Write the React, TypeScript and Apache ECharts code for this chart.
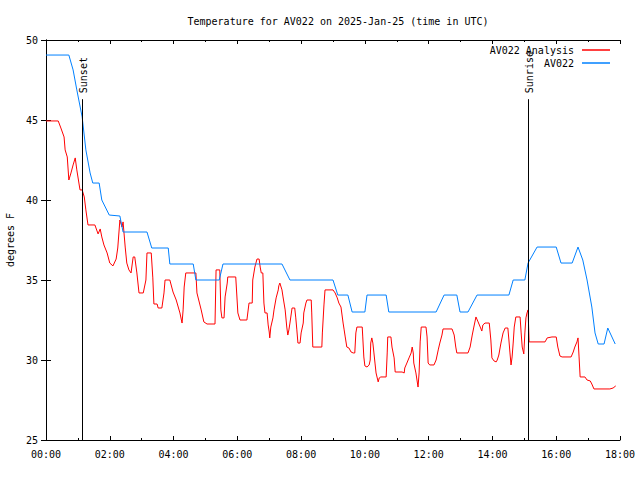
import React, { useEffect, useRef } from "react";
import * as echarts from "echarts";

const chartTitle = "Temperature for AV022 on 2025-Jan-25 (time in UTC)";
const yAxisName = "degrees F";
const analysisName = "AV022 Analysis";
const obsName = "AV022";

// time in minutes after 00:00 UTC
const analysisMinutes = [
  0, 23, 28, 34, 36, 40, 43, 47, 51, 55, 58, 64, 68, 72, 75, 79, 92, 98, 102, 105,
  109, 115, 120, 126, 132, 135, 139, 143, 145, 149, 152, 156, 160, 164, 167, 171, 175, 183, 188, 190,
  198, 201, 203, 209, 211, 218, 222, 224, 233, 239, 245, 252, 256, 258, 260, 263, 282, 284, 292, 297,
  303, 318, 320, 327, 329, 331, 335, 337, 341, 342, 357, 361, 365, 378, 382, 388, 389, 393, 397, 401,
  403, 405, 408, 410, 412, 416, 418, 420, 421, 423, 427, 429, 433, 437, 438, 440, 444, 446, 450, 453,
  455, 457, 459, 463, 468, 470, 472, 474, 478, 480, 484, 485, 489, 491, 499, 500, 502, 519, 520, 523,
  525, 540, 544, 548, 551, 555, 559, 561, 563, 566, 570, 574, 578, 581, 583, 585, 595, 596, 598, 600,
  604, 608, 610, 611, 613, 615, 617, 619, 621, 625, 627, 630, 640, 642, 643, 649, 651, 655, 657, 670,
  674, 675, 679, 683, 687, 689, 691, 692, 696, 700, 702, 704, 706, 715, 717, 719, 722, 730, 734, 738,
  741, 745, 747, 764, 768, 771, 773, 794, 798, 802, 805, 809, 813, 817, 820, 822, 826, 834, 837, 839,
  843, 847, 849, 852, 856, 860, 864, 869, 871, 873, 875, 877, 879, 881, 884, 892, 894, 896, 899, 901,
  903, 905, 907, 909, 939, 943, 952, 960, 963, 967, 971, 988, 992, 995, 999, 1001, 1003, 1005, 1014, 1018,
  1024, 1027, 1031, 1061, 1067, 1072,
];
const analysisValues = [
  44.94, 44.94, 44.5, 43.94, 43.13, 42.69, 41.25, 41.69, 42.19, 42.63, 41.88, 40.63, 40.63, 40.19, 39.38, 38.44, 38.44, 37.88, 38.19, 37.69,
  37.19, 36.69, 36.06, 35.88, 36.31, 37.0, 38.75, 38.31, 38.63, 37.06, 36.06, 35.63, 35.44, 36.44, 36.44, 35.44, 34.19, 34.19, 35.0, 36.69,
  36.69, 35.13, 33.5, 33.5, 33.25, 33.25, 34.19, 35.0, 35.0, 34.25, 33.75, 32.94, 32.31, 33.13, 34.56, 35.44, 35.44, 34.19, 33.13, 32.38,
  32.25, 32.25, 35.63, 35.63, 33.13, 32.63, 32.63, 33.94, 34.81, 35.19, 35.19, 32.94, 32.5, 32.5, 33.56, 33.56, 35.0, 35.81, 36.31, 36.31,
  35.81, 35.44, 35.44, 33.56, 32.94, 32.94, 32.19, 31.75, 31.38, 32.06, 32.63, 33.13, 33.88, 34.38, 34.63, 34.81, 34.38, 33.94, 33.13, 32.06,
  31.56, 31.88, 32.31, 33.25, 33.25, 32.63, 31.88, 31.06, 31.06, 31.69, 32.31, 32.94, 33.56, 33.75, 33.75, 32.94, 30.81, 30.81, 31.69, 33.44,
  34.38, 34.38, 34.19, 33.88, 33.56, 33.31, 32.31, 31.88, 31.44, 30.81, 30.75, 30.5, 30.44, 30.44, 31.69, 32.06, 32.06, 31.44, 30.19, 29.63,
  29.56, 29.69, 30.0, 31.06, 31.38, 31.06, 30.44, 29.81, 29.19, 28.63, 28.88, 28.94, 28.94, 30.44, 31.44, 31.44, 30.81, 30.13, 29.25, 29.25,
  29.19, 29.5, 29.81, 30.13, 30.44, 30.81, 30.44, 29.81, 29.19, 28.31, 29.19, 31.13, 32.06, 32.06, 31.44, 29.81, 29.69, 29.69, 30.0, 30.63,
  31.06, 31.56, 31.94, 31.94, 31.56, 30.81, 30.44, 30.44, 30.81, 31.56, 32.06, 32.69, 32.38, 32.06, 31.81, 32.19, 32.31, 32.31, 31.25, 30.13,
  29.94, 29.88, 30.0, 30.31, 31.06, 31.69, 32.0, 32.0, 31.25, 30.44, 29.69, 30.19, 31.06, 32.06, 32.69, 32.69, 31.69, 30.81, 30.38, 31.69,
  32.63, 32.94, 33.13, 31.13, 31.13, 31.38, 31.44, 31.44, 30.81, 30.25, 30.19, 30.19, 30.5, 30.81, 31.13, 31.38, 30.19, 28.94, 28.94, 28.75,
  28.69, 28.5, 28.19, 28.19, 28.25, 28.38,
];

const obsMinutes = [
  0, 43, 51, 58, 68, 75, 83, 88, 100, 105, 119, 139, 145, 190, 199, 230, 233, 277, 282, 326,
  333, 444, 459, 540, 549, 568, 576, 600, 604, 640, 645, 734, 749, 773, 779, 794, 811, 871, 879, 901,
  907, 924, 960, 969, 990, 1001, 1010, 1018, 1027, 1033, 1039, 1050, 1057, 1071,
];
const obsValues = [
  49.06, 49.06, 48.13, 46.88, 45.19, 43.13, 41.69, 41.06, 41.06, 40.0, 39.06, 39.0, 38.0, 38.0, 37.0, 37.0, 36.0, 36.0, 35.0, 35.0,
  36.0, 36.0, 35.0, 35.0, 34.06, 34.06, 33.0, 33.0, 34.06, 34.06, 33.0, 33.0, 34.06, 34.06, 33.0, 33.0, 34.06, 34.06, 35.0, 35.0,
  36.06, 37.06, 37.06, 36.06, 36.06, 37.06, 36.25, 35.0, 33.31, 31.69, 31.0, 31.0, 32.0, 31.0,
];

const sunEvents = [
  { label: "Sunset", minute: 68 },
  { label: "Sunrise", minute: 907 },
];
const sunLineTop = 46.3;

const FONT = "DejaVu Sans Mono";

function fmtTime(v: number): string {
  const h = Math.floor(v / 60);
  const m = Math.round(v % 60);
  return `${String(h).padStart(2, "0")}:${String(m).padStart(2, "0")}`;
}

export default function App() {
  const ref = useRef<HTMLDivElement>(null);
  useEffect(() => {
    if (!ref.current) return;
    const chart = echarts.init(ref.current, undefined, { renderer: "svg" });
    const axisCommon = {
      type: "value" as const,
      axisLine: { show: true, lineStyle: { color: "#000", width: 1 } },
      splitLine: { show: false },
    };
    const xCommon = {
      ...axisCommon,
      min: 0,
      max: 1080,
      interval: 120,
      axisTick: { show: true, inside: true, length: 4, lineStyle: { color: "#000" } },
      minorTick: { show: true, splitNumber: 2, length: 2, lineStyle: { color: "#000" } },
    };
    const yCommon = {
      ...axisCommon,
      min: 25,
      max: 50,
      interval: 5,
      axisTick: { show: true, inside: true, length: 5, lineStyle: { color: "#000" } },
    };
    const legendCommon = {
      right: 25,
      align: "right",
      icon: "rect",
      itemWidth: 28,
      itemHeight: 1.5,
      selectedMode: false,
      textStyle: { fontFamily: FONT, fontSize: 10, color: "#000", padding: [0, 3, 0, 0] },
    };
    const option: any = {
      animation: false,
      backgroundColor: "#fff",
      title: {
        text: chartTitle,
        left: 333,
        top: 11,
        textAlign: "center",
        textStyle: { fontFamily: FONT, fontSize: 10, fontWeight: "normal", color: "#000" },
      },
      legend: [
        { ...legendCommon, data: [analysisName], top: 40 },
        { ...legendCommon, data: [obsName], top: 53 },
      ],
      grid: { left: 46, right: 20, top: 40, bottom: 40, containLabel: false, outerBoundsMode: "none" },
      xAxis: [
        {
          ...xCommon,
          position: "bottom",
          axisLabel: {
            show: true,
            margin: 9,
            formatter: (v: number) => fmtTime(v),
            fontFamily: FONT,
            fontSize: 10,
            color: "#000",
          },
        },
        { ...xCommon, position: "top", axisLabel: { show: false } },
      ],
      yAxis: [
        {
          ...yCommon,
          position: "left",
          name: yAxisName,
          nameLocation: "middle",
          nameGap: 30,
          nameRotate: 90,
          nameTextStyle: { fontFamily: FONT, fontSize: 10, color: "#000" },
          axisLabel: { show: true, margin: 8, fontFamily: FONT, fontSize: 10, color: "#000" },
        },
        { ...yCommon, position: "right", axisLabel: { show: false } },
      ],
      series: [
        {
          name: analysisName,
          type: "line",
          data: analysisMinutes.map((m, i) => [m, analysisValues[i]]),
          showSymbol: false,
          symbol: "none",
          color: "#ff0000",
          lineStyle: { width: 1, color: "#ff0000" },
          markLine: {
            silent: true,
            symbol: "none",
            label: { show: false },
            lineStyle: { color: "#000", width: 1, type: "solid" },
            data: sunEvents.map((e) => [
              { coord: [e.minute, 25] },
              { coord: [e.minute, sunLineTop] },
            ]),
          },
        },
        {
          name: obsName,
          type: "line",
          data: obsMinutes.map((m, i) => [m, obsValues[i]]),
          showSymbol: false,
          symbol: "none",
          color: "#0080ff",
          lineStyle: { width: 1, color: "#0080ff" },
        },
      ],
    };
    chart.setOption(option);
    const graphics = sunEvents.map((e) => {
      const p = chart.convertToPixel({ xAxisIndex: 0, yAxisIndex: 0 }, [e.minute, sunLineTop]) as number[];
      return {
        type: "text",
        x: p[0] + 1,
        y: p[1] - 6,
        rotation: Math.PI / 2,
        style: {
          text: e.label,
          fontFamily: FONT,
          fontSize: 10,
          fill: "#000",
          textAlign: "left",
          textVerticalAlign: "middle",
        },
      };
    });
    chart.setOption({ graphic: graphics });
    return () => chart.dispose();
  }, []);
  return (
    <div
      ref={ref}
      style={{ position: "absolute", left: 0, top: 0, width: 640, height: 480, background: "#fff" }}
    />
  );
}
